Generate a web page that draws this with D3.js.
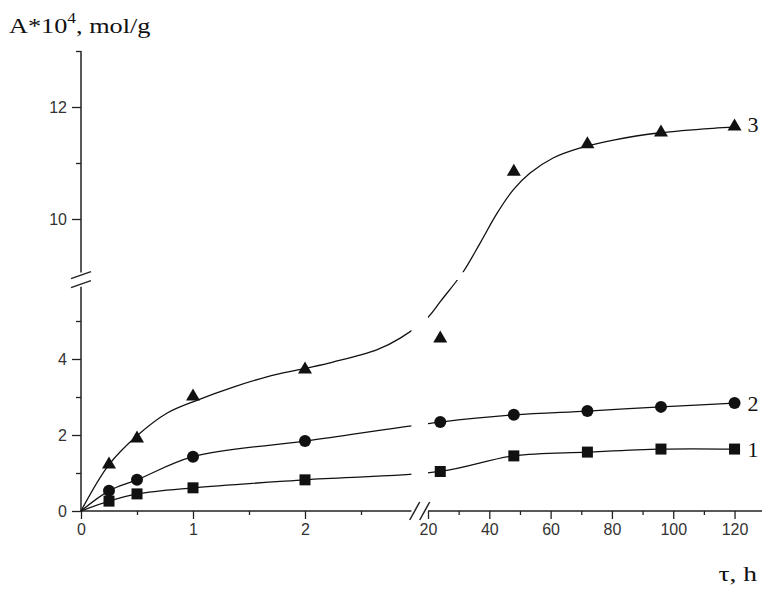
<!DOCTYPE html>
<html>
<head>
<meta charset="utf-8">
<script src="https://cdn.jsdelivr.net/npm/d3@7"></script>
<style>
  body { margin: 0; background: #fff; }
  .tick text { font-family: 'Liberation Sans', Arial, sans-serif; font-size: 16px; fill: #333; }
  .tick line { stroke: #222; stroke-width: 1.3; }
  .serif { font-family: 'Liberation Serif', 'Times New Roman', serif; fill: #111; }
</style>
</head>
<body>
<div id="main"></div>
<script>
// sampling times, hours
const times = [0.25, 0.5, 1, 2, 24, 48, 72, 96, 120];
// adsorption A*10^4, mol/g
const series1 = [0.26, 0.45, 0.61, 0.82, 1.04, 1.45, 1.55, 1.63, 1.63];
const series2 = [0.53, 0.82, 1.43, 1.84, 2.34, 2.53, 2.63, 2.74, 2.84];
const series3 = [1.26, 1.95, 3.05, 3.76, 4.58, 10.87, 11.36, 11.57, 11.68];
// fitted curve for series 3 (it does not pass through every marker), [t, A]
const fitTimes3 = [0, 0.25, 0.5, 0.77, 1.04, 1.36, 1.66, 1.98, 2.25, 2.64, 2.85, 20, 24.2, 31.4, 37, 42.5, 47.8, 53.3, 60.8, 69.7, 80.5, 95.8, 113, 120];
const fitValues3 = [0, 1.22, 1.98, 2.58, 2.92, 3.26, 3.53, 3.74, 3.92, 4.24, 4.55, 5.1, 5.53, 9.04, 9.57, 10.1, 10.52, 10.82, 11.09, 11.27, 11.41, 11.54, 11.62, 11.64];
// tick values for both parts of each broken axis
const xMajorLow = [0, 1, 2];
const xMinorLow = [0.5, 1.5, 2.5];
const xMajorHigh = [20, 40, 60, 80, 100, 120];
const xMinorHigh = [30, 50, 70, 90, 110];
const yMajorLow = [0, 2, 4];
const yMinorLow = [1, 3, 5];
const yMajorHigh = [10, 12];
const yMinorHigh = [11, 13];
const curveLabels = ['1', '2', '3'];

function main() {
  const width = 762;
  const height = 589;

  // broken x axis: 0..~3 h stretched, then 20..130 h
  const x = d3.scaleLinear()
    .domain([0, 2.95, 17, 130])
    .range([81, 411.4, 418.8, 765.2]);
  // broken y axis: 0..~6 below, 9..13 above
  const y = d3.scaleLinear()
    .domain([0, 5.95, 9.05, 13])
    .range([511, 284.9, 272.2, 51]);

  const svg = d3.select('#main')
    .append('svg')
    .attr('width', width)
    .attr('height', height);

  // axis lines drawn per segment
  const axisLine = (x1, y1, x2, y2) => svg.append('line')
    .attr('x1', x1).attr('y1', y1).attr('x2', x2).attr('y2', y2)
    .style('stroke', '#222')
    .style('stroke-width', 1.5);
  axisLine(x(0), y(0), x(2.97), y(0));
  axisLine(x(20), y(0), width, y(0));
  axisLine(x(0), y(0), x(0), y(5.9));
  axisLine(x(0), y(9), x(0), y(13));

  // break marks
  const xMid = (x(2.97) + x(20)) / 2;
  [-5, 5].forEach(off => {
    svg.append('line')
      .attr('x1', xMid + off - 5).attr('y1', y(0) + 9)
      .attr('x2', xMid + off + 5).attr('y2', y(0) - 9)
      .style('stroke', '#222').style('stroke-width', 1.5);
  });
  const yMid = (y(5.9) + y(9)) / 2;
  [-4.5, 4.5].forEach(off => {
    svg.append('line')
      .attr('x1', x(0) - 10).attr('y1', yMid + off + 3.5)
      .attr('x2', x(0) + 10).attr('y2', yMid + off - 3.5)
      .style('stroke', '#222').style('stroke-width', 1.5);
  });

  // ticks: majors with labels, minors shorter
  const ticks = (axis, scale, values, size, labels) => {
    const g = svg.append('g')
      .call(axis(scale)
        .tickValues(values)
        .tickSize(size)
        .tickPadding(labels ? 5 : 0)
        .tickFormat(labels ? d3.format('d') : ''));
    g.select('.domain').remove();
    return g;
  };
  [[xMajorLow, 8, true], [xMinorLow, 4, false], [xMajorHigh, 8, true], [xMinorHigh, 4, false]]
    .forEach(([v, s, l]) => ticks(d3.axisBottom, x, v, s, l).attr('transform', `translate(0,${y(0)})`));
  [[yMajorLow, 9, true], [yMinorLow, 5, false], [yMajorHigh, 9, true], [yMinorHigh, 5, false]]
    .forEach(([v, s, l]) => ticks(d3.axisLeft, y, v, s, l).attr('transform', `translate(${x(0)},0)`));

  // clip curves where they cross the breaks
  const clip = svg.append('clipPath').attr('id', 'gaps');
  clip.append('rect').attr('x', 0).attr('y', 0).attr('width', x(2.99)).attr('height', height);
  clip.append('rect').attr('x', x(20)).attr('y', 0).attr('width', width).attr('height', y(9.03));
  clip.append('rect').attr('x', x(20)).attr('y', y(7.15)).attr('width', width).attr('height', height);

  const line = d3.line()
    .x(d => x(d[0]))
    .y(d => y(d[1]))
    .curve(d3.curveCatmullRom.alpha(0.5));

  const curves = [
    [[0, 0], ...times.map((t, i) => [t, series1[i]])],
    [[0, 0], ...times.map((t, i) => [t, series2[i]])],
    fitTimes3.map((t, i) => [t, fitValues3[i]])
  ];
  svg.append('g')
    .attr('clip-path', 'url(#gaps)')
    .selectAll('path')
    .data(curves)
    .enter()
    .append('path')
    .attr('d', line)
    .style('fill', 'none')
    .style('stroke', '#111')
    .style('stroke-width', 1.3);

  // markers
  const pts = (vals) => times.map((t, i) => [t, vals[i]]);
  svg.append('g').selectAll('rect')
    .data(pts(series1))
    .enter()
    .append('rect')
    .attr('x', d => x(d[0]) - 5.5)
    .attr('y', d => y(d[1]) - 5.5)
    .attr('width', 11)
    .attr('height', 11)
    .style('fill', '#111');
  svg.append('g').selectAll('circle')
    .data(pts(series2))
    .enter()
    .append('circle')
    .attr('cx', d => x(d[0]))
    .attr('cy', d => y(d[1]))
    .attr('r', 6)
    .style('fill', '#111');
  svg.append('g').selectAll('path')
    .data(pts(series3))
    .enter()
    .append('path')
    .attr('transform', d => `translate(${x(d[0])},${y(d[1])})`)
    .attr('d', 'M0,-6.5L7,5.5L-7,5.5Z')
    .style('fill', '#111');

  // curve numbers next to last markers
  [series1, series2, series3].forEach((s, i) => {
    svg.append('text')
      .attr('x', x(times[times.length - 1]) + 13)
      .attr('y', y(s[s.length - 1]) + 7.5)
      .classed('serif', true)
      .style('font-size', '22px')
      .text(curveLabels[i]);
  });

  // y axis title (the scan's lettering is wide, so stretch it a little)
  const yt = svg.append('text')
    .attr('transform', 'translate(9,33) scale(1.25,1)')
    .classed('serif', true)
    .style('font-size', '21px');
  yt.append('tspan').text('A*10');
  yt.append('tspan').attr('dy', -10).style('font-size', '14px').text('4');
  yt.append('tspan').attr('dy', 10).text(', mol/g');

  // x axis title
  svg.append('text')
    .attr('transform', 'translate(757,581) scale(1.25,1)')
    .classed('serif', true)
    .style('font-size', '22px')
    .style('text-anchor', 'end')
    .text('τ, h');
}

document.addEventListener('DOMContentLoaded', main);
</script>
</body>
</html>
